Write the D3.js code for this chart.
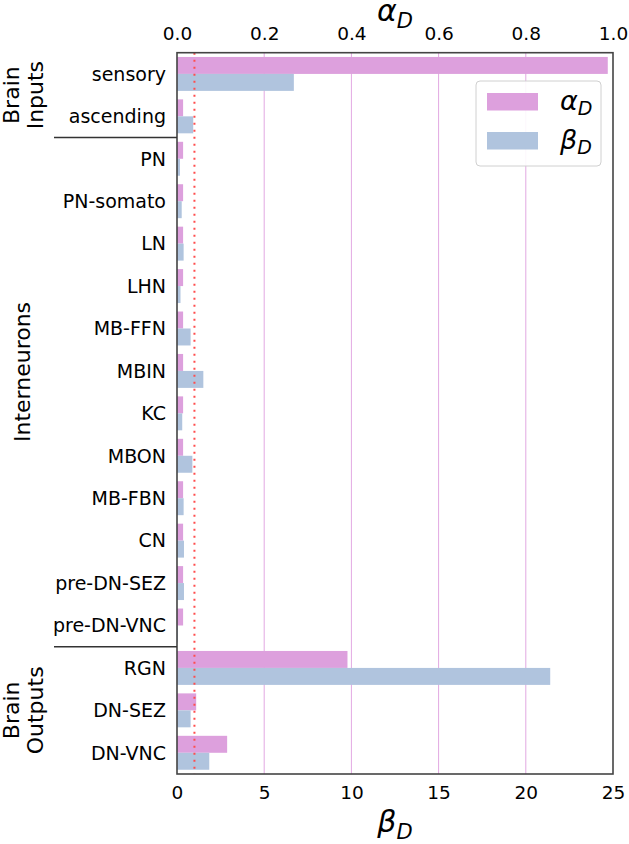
<!DOCTYPE html>
<html>
<head>
<meta charset="utf-8">
<script src="https://cdn.jsdelivr.net/npm/d3@7"></script>
<style>
  body { margin: 0; background: #fff; }
  svg { font-family: "DejaVu Sans", sans-serif; }
</style>
</head>
<body>
<svg id="drawing_region"></svg>
<script>
// categories from top to bottom
const categories = ["sensory", "ascending", "PN", "PN-somato", "LN", "LHN", "MB-FFN", "MBIN",
                    "KC", "MBON", "MB-FBN", "CN", "pre-DN-SEZ", "pre-DN-VNC", "RGN", "DN-SEZ", "DN-VNC"];
// alpha_D (top axis, 0..1)
const alphaD = [0.988, 0.014, 0.014, 0.014, 0.014, 0.014, 0.014, 0.014,
                0.014, 0.014, 0.014, 0.014, 0.014, 0.014, 0.391, 0.044, 0.115];
// beta_D (bottom axis, 0..25)
const betaD = [6.7, 0.93, 0.17, 0.27, 0.38, 0.2, 0.78, 1.51,
               0.3, 0.88, 0.38, 0.4, 0.4, 0.05, 21.4, 0.78, 1.85];
const alphaTicks = [0.0, 0.2, 0.4, 0.6, 0.8, 1.0];
const betaTicks = [0, 5, 10, 15, 20, 25];
const refBeta = 1;
// groups: label lines, first and last category
const groupLabels = [["Brain", "Inputs"], ["Interneurons"], ["Brain", "Outputs"]];
const groupFirst = ["sensory", "PN", "RGN"];
const groupLast = ["ascending", "pre-DN-VNC", "DN-VNC"];

const config = {
    width: 629,
    height: 844,
    margin: {top: 52.7, right: 16, bottom: 70, left: 177}
};

const pink = "#dda0dd";
const blue = "#b0c4de";

const svg = d3.select("#drawing_region")
    .attr("width", config.width)
    .attr("height", config.height);

const inner_width = config.width - config.margin.left - config.margin.right;
const inner_height = 774 - config.margin.top;

const chart = svg.append("g")
    .attr("transform", `translate(${config.margin.left}, ${config.margin.top})`);

const yscale = d3.scaleBand().domain(categories).range([0, inner_height]).padding(0);
const sub = d3.scaleBand().domain(["a", "b"]).range([0.1, 0.9].map(v => v * yscale.bandwidth()));
const ascale = d3.scaleLinear().domain([0, 1]).range([0, inner_width]);
const bscale = d3.scaleLinear().domain([0, 25]).range([0, inner_width]);

// grid
chart.append("g").selectAll("line")
    .data(alphaTicks.slice(1, -1))
    .join("line")
    .attr("x1", d => ascale(d)).attr("x2", d => ascale(d))
    .attr("y1", 0).attr("y2", inner_height)
    .attr("stroke", "#e2a8e2").attr("stroke-width", 1);

// bars
chart.append("g").selectAll("rect")
    .data(categories)
    .join("rect")
    .attr("x", 0)
    .attr("y", (d) => yscale(d) + sub("a"))
    .attr("width", (d, i) => ascale(alphaD[i]))
    .attr("height", sub.bandwidth())
    .attr("fill", pink);

chart.append("g").selectAll("rect")
    .data(categories)
    .join("rect")
    .attr("x", 0)
    .attr("y", (d) => yscale(d) + sub("b"))
    .attr("width", (d, i) => bscale(betaD[i]))
    .attr("height", sub.bandwidth())
    .attr("fill", blue);

// reference line
chart.append("line")
    .attr("x1", bscale(refBeta)).attr("x2", bscale(refBeta))
    .attr("y1", 0).attr("y2", inner_height)
    .attr("stroke", "#ff4d4d")
    .attr("stroke-width", 2)
    .attr("stroke-dasharray", "2,5");

// axes
const topAxis = d3.axisTop(ascale).tickValues(alphaTicks).tickFormat(d3.format(".1f"))
    .tickSize(0).tickPadding(12.5);
const bottomAxis = d3.axisBottom(bscale).tickValues(betaTicks).tickFormat(d3.format("d"))
    .tickSize(0).tickPadding(12);

const gTop = chart.append("g").call(topAxis);
const gBot = chart.append("g").attr("transform", `translate(0, ${inner_height})`).call(bottomAxis);
[gTop, gBot].forEach(g => {
    g.select(".domain").remove();
    g.selectAll("text").attr("font-size", "18.5px").attr("fill", "black")
        .attr("font-family", "DejaVu Sans");
});

// category labels
chart.append("g").selectAll("text")
    .data(categories)
    .join("text")
    .attr("x", -11)
    .attr("y", d => yscale(d) + yscale.bandwidth() / 2)
    .attr("dy", "0.36em")
    .attr("text-anchor", "end")
    .attr("font-size", "19px")
    .text(d => d);

// frame
chart.append("rect")
    .attr("x", 0).attr("y", 0)
    .attr("width", inner_width).attr("height", inner_height)
    .attr("fill", "none").attr("stroke", "#444").attr("stroke-width", 1.6);

// group separators
groupLast.slice(0, -1).forEach(c => {
    const y = yscale(c) + yscale.bandwidth();
    chart.append("line")
        .attr("x1", 54 - config.margin.left).attr("x2", 0)
        .attr("y1", y).attr("y2", y)
        .attr("stroke", "#333").attr("stroke-width", 1.4);
});

// group labels (rotated)
const groupCenters = [null, 372 - config.margin.top, null];
groupLabels.forEach((lines, i) => {
    let cy = (yscale(groupFirst[i]) + yscale(groupLast[i]) + yscale.bandwidth()) / 2;
    if (groupCenters[i] !== null) cy = groupCenters[i];
    const baseX = lines.length === 2 ? [19, 43] : [29.5];
    lines.forEach((t, j) => {
        chart.append("text")
            .attr("transform", `translate(${baseX[j] - config.margin.left}, ${cy}) rotate(-90)`)
            .attr("text-anchor", "middle")
            .attr("font-size", "22px")
            .text(t);
    });
});

// axis titles
function mathLabel(parent, x, y, sym, size) {
    const t = parent.append("text")
        .attr("x", x).attr("y", y)
        .attr("text-anchor", "middle")
        .attr("font-style", "italic")
        .attr("font-size", size + "px");
    t.append("tspan").text(sym);
    t.append("tspan").attr("font-size", (size * 0.7) + "px").attr("dy", size * 0.22).text("D");
    return t;
}
mathLabel(svg, config.margin.left + inner_width / 2, 21, "α", 30);
mathLabel(svg, config.margin.left + inner_width / 2, 832, "β", 30);

// legend
const legend = svg.append("g").attr("transform", "translate(476, 81)");
legend.append("rect")
    .attr("width", 125).attr("height", 85).attr("rx", 4)
    .attr("fill", "white").attr("fill-opacity", 0.9)
    .attr("stroke", "#d0d0d0").attr("stroke-width", 1);
const legendSyms = ["α", "β"];
const legendColors = [pink, blue];
legendSyms.forEach((s, i) => {
    legend.append("rect")
        .attr("x", 11).attr("y", 12 + i * 39)
        .attr("width", 51).attr("height", 17.5)
        .attr("fill", legendColors[i]);
    const t = legend.append("text")
        .attr("x", 84).attr("y", 29 + i * 39)
        .attr("font-style", "italic")
        .attr("font-size", "27px");
    t.append("tspan").text(s);
    t.append("tspan").attr("font-size", "19px").attr("dy", 5).text("D");
});
</script>
</body>
</html>
